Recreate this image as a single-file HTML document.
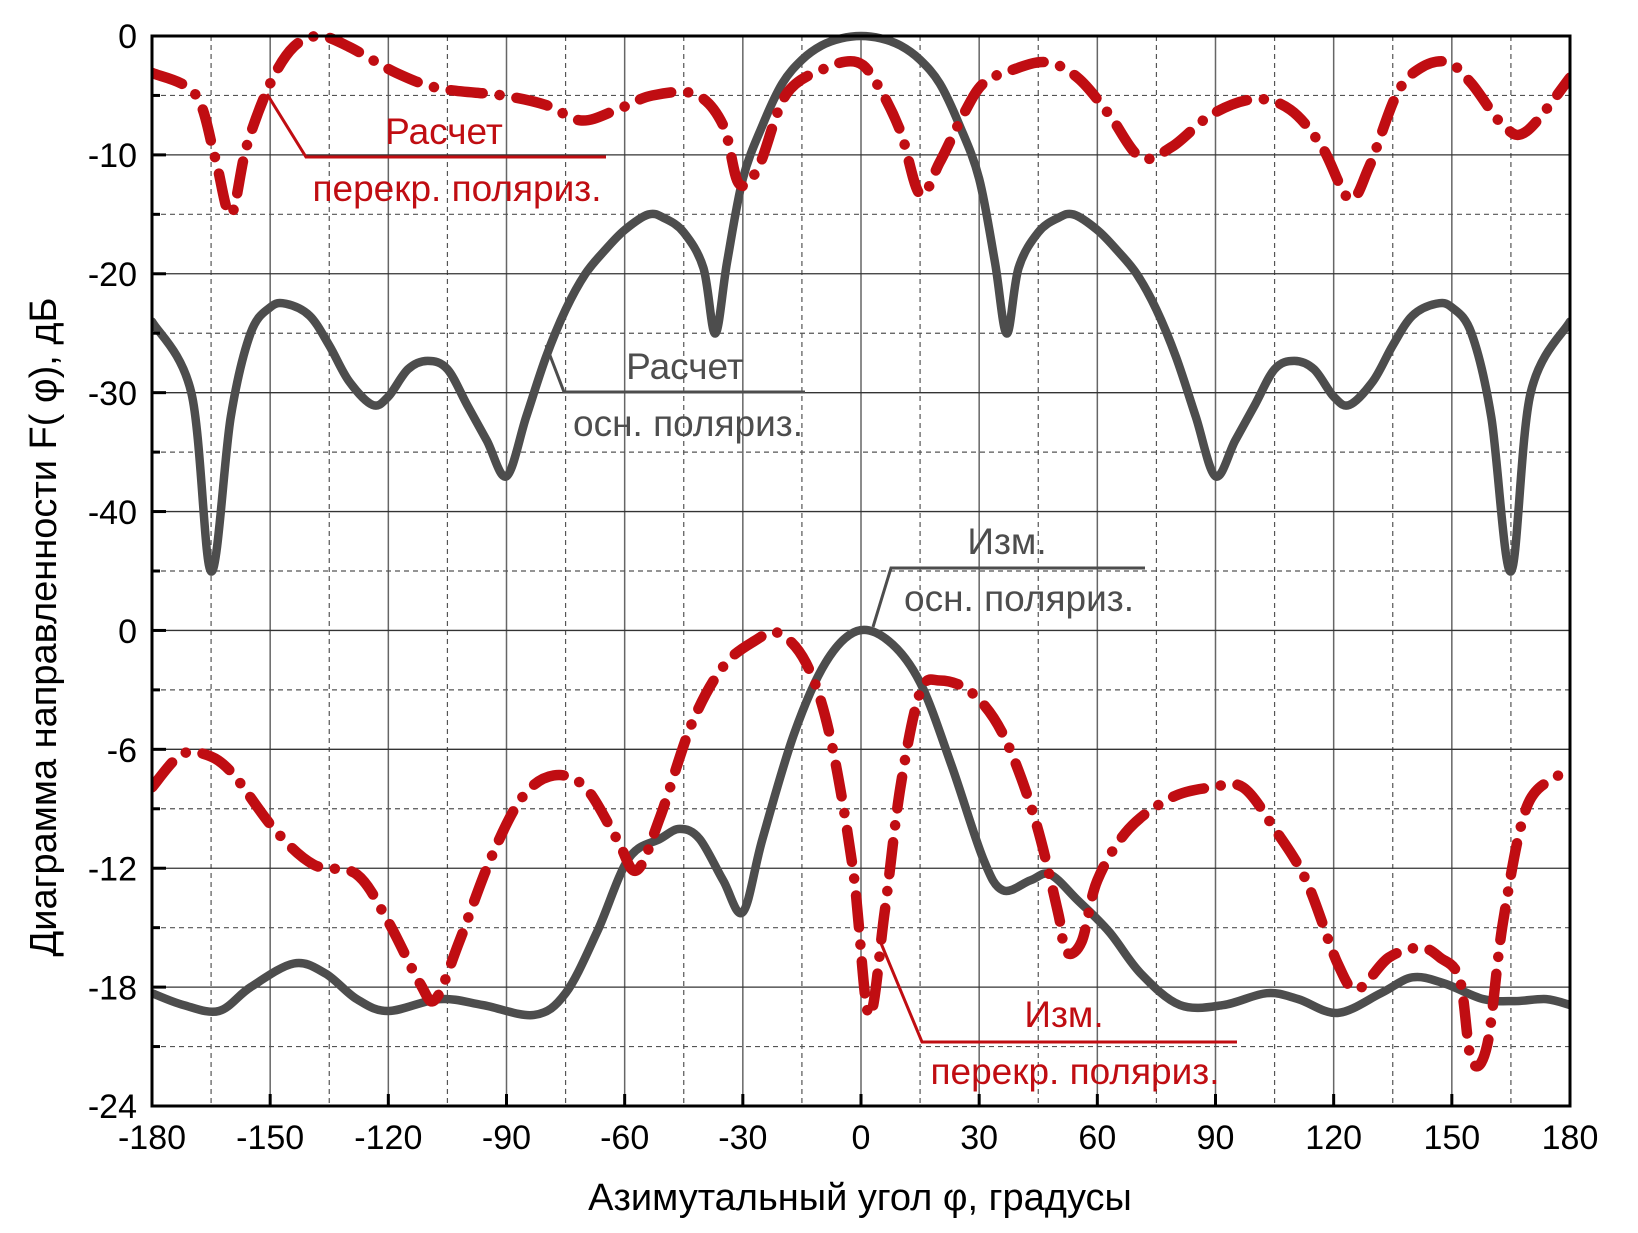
<!DOCTYPE html>
<html><head><meta charset="utf-8"><style>
html,body{margin:0;padding:0;background:#fff}
svg{display:block;font-family:"Liberation Sans",sans-serif}
</style></head><body>
<svg id="chart" width="1638" height="1233" viewBox="0 0 1638 1233" xmlns="http://www.w3.org/2000/svg">
<g id="grid"></g>
<g id="series"></g>
<g id="axes"></g>
<g font-size="37">
  <polyline points="267,94 306,157 606,157" fill="none" stroke="#c00d12" stroke-width="3"/>
  <text x="444" y="144" text-anchor="middle" fill="#c00d12">Расчет</text>
  <text x="457" y="201" text-anchor="middle" fill="#c00d12">перекр. поляриз.</text>
  <polyline points="546,345 564,392 805,392" fill="none" stroke="#4d4d4d" stroke-width="3"/>
  <text x="685" y="379" text-anchor="middle" fill="#4d4d4d">Расчет</text>
  <text x="688" y="436" text-anchor="middle" fill="#4d4d4d">осн. поляриз.</text>
  <polyline points="873,627 891,568 1145,568" fill="none" stroke="#4d4d4d" stroke-width="3"/>
  <text x="1007" y="554" text-anchor="middle" fill="#4d4d4d">Изм.</text>
  <text x="1019" y="611" text-anchor="middle" fill="#4d4d4d">осн. поляриз.</text>
  <polyline points="878,936 922,1042 1237,1042" fill="none" stroke="#c00d12" stroke-width="3"/>
  <text x="1064" y="1027" text-anchor="middle" fill="#c00d12">Изм.</text>
  <text x="1075" y="1084" text-anchor="middle" fill="#c00d12">перекр. поляриз.</text>
</g>
<text x="860" y="1210" text-anchor="middle" font-size="38">Азимутальный угол  φ, градусы</text>
<text transform="translate(56,627) rotate(-90)" text-anchor="middle" font-size="38">Диаграмма направленности F( φ), дБ</text>
</svg>
<script>
const calcMainAngles=[-180,-170,-165,-160,-155,-150,-146,-140,-135,-130,-124,-120,-115,-110,-105,-100,-95,-90,-85,-80,-75,-70,-65,-60,-54,-50,-45,-40,-37,-34,-30,-25,-20,-15,-10,-5,0,5,10,15,20,25,30,34,37,40,45,50,54,60,65,70,75,80,85,90,95,100,105,110,115,120,124,130,135,140,146,150,155,160,165,170,180];
const calcMainValues=[-24,-30,-45,-32,-25,-22.8,-22.5,-23.5,-26,-29,-31,-30.3,-28,-27.3,-28,-31,-34,-37,-32,-27,-23,-20,-18,-16.3,-15,-15.3,-16.5,-19.5,-25,-19,-12,-7.5,-4,-2,-0.8,-0.2,0,-0.2,-0.8,-2,-4,-7.5,-12,-19,-25,-19.5,-16.5,-15.3,-15,-16.3,-18,-20,-23,-27,-32,-37,-34,-31,-28,-27.3,-28,-30.3,-31,-29,-26,-23.5,-22.5,-22.8,-25,-32,-45,-30,-24];
const calcCrossAngles=[-180,-169,-164,-160,-156,-150,-144,-137.5,-130,-118,-107,-91,-80,-71,-62,-53,-42,-35,-31,-26,-19,-9,-1,4,10,15,20,26,31,38,47,55,63,71,79,89,100,109,117,124,129,136,142,149,155,163,169,180];
const calcCrossValues=[-3.1,-4.9,-10.2,-15,-9.3,-4,-0.9,0,-0.9,-3.1,-4.4,-5,-5.8,-7.1,-6.2,-5,-4.9,-7.5,-12.4,-11,-4.9,-2.7,-2.2,-4,-8,-13.3,-10.6,-6.6,-4,-2.9,-2.2,-3.5,-6.6,-10.2,-9.3,-6.6,-5.3,-6.2,-9.3,-13.7,-11,-4.9,-2.7,-2.2,-4,-7.5,-8,-3.5];
const measMainAngles=[-180,-172,-163,-155,-144,-136,-128,-120,-107,-96,-83,-75,-67,-59,-51,-46,-41,-35,-30,-25,-17,-9,-1,7,15,23,31,36,43,48,55,63,71,81,92,103,111,121,132,140,148,158,166,174,180];
const measMainValues=[-18.3,-18.9,-19.2,-18,-16.8,-17.3,-18.6,-19.2,-18.6,-18.9,-19.4,-18.3,-15.2,-11.5,-10.5,-10,-10.5,-12.6,-14.2,-10.5,-5.2,-1.6,0,-0.5,-2.6,-6.8,-11.5,-13.1,-12.6,-12.3,-13.6,-15.2,-17.3,-18.9,-18.9,-18.3,-18.6,-19.3,-18.3,-17.5,-17.8,-18.6,-18.7,-18.6,-18.9];
const measCrossAngles=[-180,-173,-167,-160,-149,-139,-128,-120,-112,-108,-102,-94,-86,-78,-70,-62,-57,-51,-43,-35,-27,-21,-14,-8,-2,2,6,10,15,20,28,36,44,50,52,56,60,68,79,89,97,105,113,121,126,134,142,147,152,155,159,163,169,177,180];
const measCrossValues=[-7.9,-6.3,-6.2,-7.1,-10,-11.8,-12.3,-14.7,-17.8,-18.6,-15.7,-11.5,-8.4,-7.3,-7.9,-10.5,-12.1,-9.4,-4.7,-1.8,-0.5,-0.1,-1.6,-5.2,-12.1,-19.4,-14.2,-7.9,-3.1,-2.5,-3.1,-5.2,-9.4,-14.2,-16.2,-15.7,-12.6,-10,-8.4,-7.9,-7.9,-10,-12.6,-16.8,-18.1,-16.5,-16,-16.5,-17.6,-21.7,-20.9,-14.7,-8.9,-7.3,-6.8];
const xTicks=[-180,-150,-120,-90,-60,-30,0,30,60,90,120,150,180];
const upperTicks=[0,-10,-20,-30,-40];
const lowerTicks=[0,-6,-12,-18,-24];

const NS="http://www.w3.org/2000/svg";
const L=152,R=1570,T=36,B=1106,Y0LOW=631;
const xs=a=>L+(a+180)/360*(R-L);
const yUp=v=>T+(-v)*11.9;
const yLow=v=>Y0LOW+(-v)*(B-Y0LOW)/24;
function mk(tag,attrs,parent){const e=document.createElementNS(NS,tag);for(const k in attrs)e.setAttribute(k,attrs[k]);parent.appendChild(e);return e;}
const grid=document.getElementById('grid'),axes=document.getElementById('axes'),series=document.getElementById('series');
for(let a=-165;a<180;a+=15){
  const major=a%30===0;
  const ln=mk('line',{x1:xs(a),x2:xs(a),y1:T,y2:B,stroke:major?'#666':'#555','stroke-width':major?1.5:1.2,'stroke-dasharray':major?'none':'5,4'},grid);
  
  
}
const step=(B-T)/18;
for(let i=1;i<18;i++){
  const y=T+i*step, major=i%2===0;
  const ln=mk('line',{x1:L,x2:R,y1:y,y2:y,stroke:major?'#333':'#555','stroke-width':major?1.3:1.2,'stroke-dasharray':major?'none':'5,4'},grid);
  
  
  mk('line',{x1:L,x2:L+(major?14:8),y1:y,y2:y,stroke:'#000','stroke-width':3},axes);
}
const frame=mk('rect',{x:L,y:T,width:R-L,height:B-T,fill:'none',stroke:'#000','stroke-width':3},axes);


xTicks.forEach((a,i)=>{
  mk('line',{x1:xs(a),x2:xs(a),y1:B,y2:B-12,stroke:'#000','stroke-width':3},axes);
  const t=mk('text',{x:xs(a),y:1149,'text-anchor':'middle','font-size':34},axes);
  t.textContent=a;
  
  
});
upperTicks.forEach(v=>{
  const t=mk('text',{x:137,y:yUp(v)+12,'text-anchor':'end','font-size':34},axes);
  t.textContent=v;
  
  
});
lowerTicks.forEach(v=>{
  const t=mk('text',{x:137,y:yLow(v)+12,'text-anchor':'end','font-size':34},axes);
  t.textContent=v;
  
  
});
function pathD(angles,vals,yf){
  const p=angles.map((a,i)=>[xs(a),yf(vals[i])]);
  let d=`M${p[0][0]},${p[0][1]}`;
  for(let i=0;i<p.length-1;i++){
    const p0=p[Math.max(0,i-1)],p1=p[i],p2=p[i+1],p3=p[Math.min(p.length-1,i+2)];
    const c1=[p1[0]+(p2[0]-p0[0])/6,p1[1]+(p2[1]-p0[1])/6];
    const c2=[p2[0]-(p3[0]-p1[0])/6,p2[1]-(p3[1]-p1[1])/6];
    d+=` C${c1[0]},${c1[1]} ${c2[0]},${c2[1]} ${p2[0]},${p2[1]}`;
  }
  return d;
}
const clip=mk('clipPath',{id:'pc'},series);
mk('rect',{x:L,y:T-12,width:R-L,height:B-T+12},clip);
const specs=[
  ['calc-main-line',calcMainAngles,calcMainValues,yUp,'#4d4d4d',8.5,'none'],
  ['meas-main-line',measMainAngles,measMainValues,yLow,'#4d4d4d',8.5,'none'],
  ['calc-cross-line',calcCrossAngles,calcCrossValues,yUp,'#c00d12',10.5,'32,17,0.1,17'],
  ['meas-cross-line',measCrossAngles,measCrossValues,yLow,'#c00d12',10.5,'32,17,0.1,17']
];
specs.forEach(s=>{
  const p=mk('path',{d:pathD(s[1],s[2],s[3]),fill:'none',stroke:s[4],'stroke-width':s[5],'stroke-dasharray':s[6],'stroke-linecap':'round','stroke-linejoin':'round','clip-path':'url(#pc)'},series);
  
  
});
</script>
</body></html>
